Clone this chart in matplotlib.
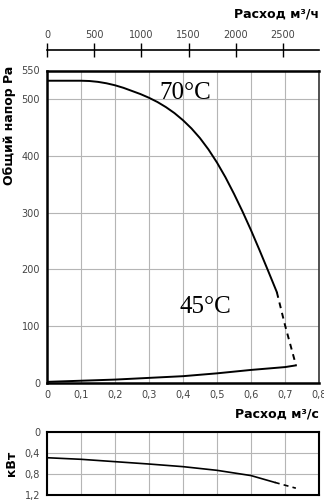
import matplotlib
matplotlib.use('Agg')
import matplotlib.pyplot as plt
from matplotlib.ticker import FuncFormatter

# Pressure curve (m3/s, Pa), solid part and dashed tail
q_solid = [0, 0.05, 0.1, 0.125, 0.15, 0.175, 0.2, 0.225, 0.25, 0.275, 0.3, 0.325,
           0.35, 0.375, 0.4, 0.425, 0.45, 0.475, 0.5, 0.525, 0.55, 0.575, 0.6,
           0.625, 0.65, 0.676]
p_solid = [532, 532, 532, 531.5, 530, 527.5, 524, 519.5, 514, 508.5, 502, 494.5,
           485.5, 475, 462.5, 448, 431, 411, 388, 362, 333, 302, 269,
           234, 198, 160]
q_dash = [0.676, 0.70, 0.732]
p_dash = [160, 102, 32]

# Lower (system) curve
q_sys = [0, 0.1, 0.2, 0.3, 0.4, 0.5, 0.6, 0.7, 0.732]
p_sys = [2, 4, 6, 9, 12, 17, 23, 28, 31]

# Power curve (kW)
q_pow = [0, 0.1, 0.2, 0.3, 0.4, 0.5, 0.6, 0.67]
w_pow = [0.49, 0.52, 0.565, 0.61, 0.66, 0.73, 0.83, 0.96]
q_pow_dash = [0.67, 0.732]
w_pow_dash = [0.96, 1.07]

x_ticks = [0, 0.1, 0.2, 0.3, 0.4, 0.5, 0.6, 0.7, 0.8]
p_ticks = [0, 100, 200, 300, 400, 500, 550]
w_ticks = [0, 0.4, 0.8, 1.2]
m3h_ticks = [0, 500, 1000, 1500, 2000, 2500]

comma = FuncFormatter(lambda v, pos: ('%g' % v).replace('.', ','))
tick_color = '#444444'
grid_color = '#b5b5b5'

fig = plt.figure(figsize=(3.24, 5.0), dpi=100)

# main chart
ax = fig.add_axes([0.145, 0.234, 0.8395, 0.625])
ax.plot(q_solid, p_solid, color='black', lw=1.4, solid_joinstyle='round')
ax.plot(q_dash, p_dash, color='black', lw=1.4, dashes=(3, 2.5))
ax.plot(q_sys, p_sys, color='black', lw=1.4)
ax.set_xlim(0, 0.8)
ax.set_ylim(0, 550)
ax.set_xticks(x_ticks)
ax.set_yticks(p_ticks)
ax.xaxis.set_major_formatter(comma)
ax.tick_params(length=0, labelsize=7, labelcolor=tick_color, pad=5)
ax.grid(True, color=grid_color, lw=0.8)
for s in ['left', 'bottom', 'top']:
    ax.spines[s].set_linewidth(1.8)
ax.spines['right'].set_linewidth(1.2)
ax.spines['right'].set_color('#333333')

ax.text(0.332, 511, '70°C', fontsize=18, family='Liberation Serif', va='center')
ax.text(0.39, 134, '45°C', fontsize=18, family='Liberation Serif', va='center')

# top m3/h axis
sec = ax.secondary_xaxis(1.065, functions=(lambda x: x * 3600, lambda x: x / 3600))
sec.set_xticks(m3h_ticks)
sec.tick_params(direction='inout', length=10, width=1, labelsize=7, labelcolor=tick_color, pad=2)
sec.spines['top'].set_linewidth(1.2)

fig.text(0.985, 0.972, 'Расход м³/ч', ha='right', va='center', fontsize=9, fontweight='bold')
fig.text(0.028, 0.75, 'Общий напор Pa', rotation=90, ha='center', va='center',
         fontsize=9, fontweight='bold')

# power chart
ax2 = fig.add_axes([0.145, 0.01, 0.8395, 0.126])
ax2.plot(q_pow, w_pow, color='black', lw=1.2)
ax2.plot(q_pow_dash, w_pow_dash, color='black', lw=1.2, dashes=(3, 2.5))
ax2.set_xlim(0, 0.8)
ax2.set_ylim(1.2, 0)
ax2.set_xticks(x_ticks)
ax2.set_yticks(w_ticks)
ax2.yaxis.set_major_formatter(comma)
ax2.tick_params(axis='x', labelbottom=False, length=0)
ax2.tick_params(axis='y', length=0, labelsize=7, labelcolor=tick_color, pad=5)
ax2.grid(True, color=grid_color, lw=0.8)
for s in ax2.spines.values():
    s.set_linewidth(1.5)

fig.text(0.985, 0.172, 'Расход м³/с', ha='right', va='center', fontsize=9, fontweight='bold')
fig.text(0.037, 0.074, 'кВт', rotation=90, ha='center', va='center',
         fontsize=9, fontweight='bold')

fig.savefig('out.png', dpi=100)
